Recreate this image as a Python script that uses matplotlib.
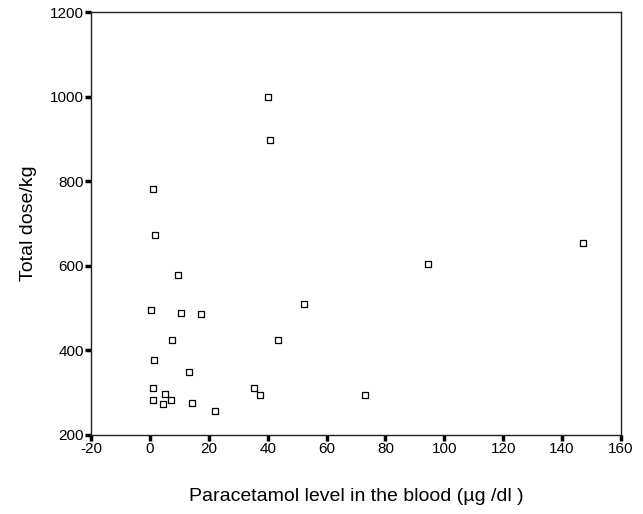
import matplotlib
matplotlib.use("Agg")
import matplotlib.pyplot as plt

paracetamol_level = [40.2, 40.9, 0.9, 1.7, 9.6, 0.3, 10.5, 17.5, 7.6, 1.4, 13.2, 1.1, 1.1,
                     5.3, 7.1, 4.3, 14.4, 22.1, 35.3, 37.3, 43.6, 52.5, 94.3, 73.1, 147.1]
total_dose = [998, 897, 781, 672, 578, 495, 488, 485, 425, 378, 349, 310, 283,
              297, 283, 273, 276, 257, 312, 295, 424, 510, 605, 294, 653]

x_ticks = [-20, 0, 20, 40, 60, 80, 100, 120, 140, 160]
y_ticks = [200, 400, 600, 800, 1000, 1200]

plt.rcParams['font.family'] = ['Liberation Sans', 'DejaVu Sans']
plt.rcParams['axes.unicode_minus'] = False

fig = plt.figure(figsize=(6.43, 5.14), dpi=100)
ax = fig.add_axes([91/643, 1-435/514, 530/643, 423/514])

ax.scatter(paracetamol_level, total_dose, marker='s', s=22, facecolors='white',
           edgecolors='black', linewidths=0.9, zorder=3)

ax.set_xlim(-20, 160)
ax.set_ylim(200, 1200)
ax.set_xticks(x_ticks)
ax.set_yticks(y_ticks)
ax.tick_params(axis='both', direction='out', length=4, width=2.5, labelsize=11,
               color='black', pad=1)

for sp in ax.spines.values():
    sp.set_linewidth(1.0)
    sp.set_color('#222222')

ax.set_xlabel('Paracetamol level in the blood (µg /dl )', fontsize=14)
ax.set_ylabel('Total dose/kg', fontsize=14)
ax.xaxis.set_label_coords(0.5, -0.125)
ax.yaxis.set_label_coords(-0.102, 0.5)

fig.savefig('out.png', dpi=100)
